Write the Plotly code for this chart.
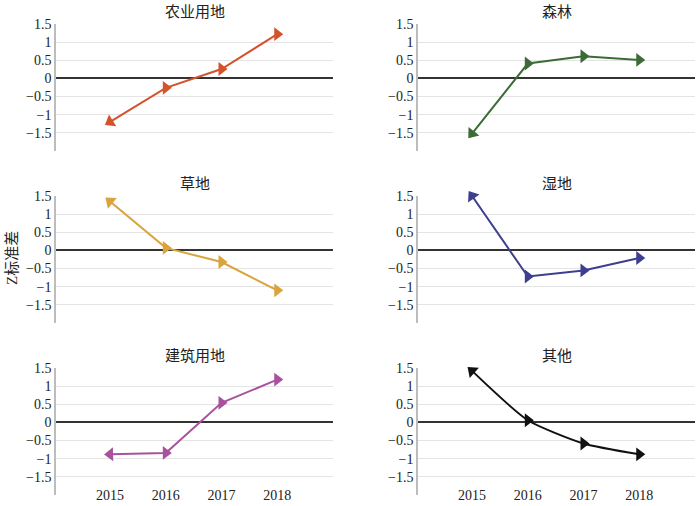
import math
import plotly.graph_objects as go

years = [2015, 2016, 2017, 2018]
titles = ["农业用地", "森林", "草地", "湿地", "建筑用地", "其他"]
agri = [-1.2, -0.26, 0.26, 1.22]
forest = [-1.52, 0.41, 0.61, 0.51]
grass = [1.35, 0.07, -0.32, -1.1]
wetland = [1.5, -0.72, -0.55, -0.21]
build = [-0.88, -0.84, 0.54, 1.18]
other = [1.42, 0.06, -0.58, -0.88]
series = [agri, forest, grass, wetland, build, other]
colors = ["#D4532B", "#3C6B37", "#D9A43E", "#3D3F8E", "#A8529E", "#111111"]
ytick_vals = [-1.5, -1, -0.5, 0, 0.5, 1, 1.5]
ytick_text = ["\u22121.5", "\u22121", "\u22120.5", "0", "0.5", "1", "1.5"]

W, H = 700, 506
xdoms = [(56 / W, 333 / W), (418 / W, 695 / W)]
rows_px = [(24, 151), (196, 323), (368, 495)]
ydoms = [(1 - b / H, 1 - t / H) for t, b in rows_px]
XR = [2014.03, 2019]
YR = [-2, 1.5]
px_per_x = 277 / (XR[1] - XR[0])
px_per_y = 127 / (YR[1] - YR[0])

FONT = "Liberation Serif, Noto Sans CJK SC, serif"

fig = go.Figure()
for i, (vals, col, title) in enumerate(zip(series, colors, titles)):
    r, c = divmod(i, 2)
    n = i + 1
    xa = "x" if n == 1 else f"x{n}"
    ya = "y" if n == 1 else f"y{n}"
    # first marker points backward along the line
    dx = (years[0] - years[1]) * px_per_x
    dy = -(vals[0] - vals[1]) * px_per_y
    ang0 = math.degrees(math.atan2(dy, dx))
    angles = [ang0, 0, 0, 0]
    fig.add_trace(go.Scatter(
        x=years, y=vals, xaxis=xa, yaxis=ya, mode="lines+markers",
        line=dict(color=col, width=2, shape="spline" if i == 5 else "linear", smoothing=0.6),
        marker=dict(symbol="triangle-right", size=12, color=col, angle=angles),
        showlegend=False, cliponaxis=False,
    ))
    xkey = "xaxis" if n == 1 else f"xaxis{n}"
    ykey = "yaxis" if n == 1 else f"yaxis{n}"
    xdict = dict(
        domain=xdoms[c], range=XR, showgrid=False, zeroline=False,
        showline=False, tickmode="array", tickvals=years,
        ticktext=[str(y) for y in years], showticklabels=(r == 2),
        ticks="", tickfont=dict(family=FONT, size=14, color="#222"),
        automargin=False,
    )
    if r == 2:
        xdict.update(anchor="free", position=1 - 485 / H)
    else:
        xdict.update(anchor=ya)
    fig.layout[xkey] = xdict
    fig.layout[ykey] = dict(
        domain=ydoms[r], range=YR, anchor=xa, showgrid=True, gridcolor="#E4E4E4",
        gridwidth=1, zeroline=True, zerolinecolor="#333333", zerolinewidth=1.5,
        showline=True, linecolor="#BDBDBD", linewidth=1.5,
        tickmode="array", tickvals=ytick_vals, ticktext=ytick_text,
        tickfont=dict(family=FONT, size=14, color="#222"), ticks="",
        automargin=False,
    )
    fig.add_annotation(
        text=title, xref="paper", yref="paper",
        x=(xdoms[c][0] + xdoms[c][1]) / 2, y=1 - (rows_px[r][0] - 12) / H,
        showarrow=False, font=dict(family=FONT, size=15, color="#222"),
        xanchor="center", yanchor="middle",
    )

fig.add_annotation(
    text="Z标准差", xref="paper", yref="paper", x=12 / W, y=1 - 258 / H,
    textangle=-90, showarrow=False, font=dict(family=FONT, size=15, color="#222"),
    xanchor="center", yanchor="middle",
)

fig.update_layout(
    width=W, height=H, margin=dict(l=0, r=0, t=0, b=0, autoexpand=False),
    paper_bgcolor="white", plot_bgcolor="white",
)
fig.write_html(
    "out.html",
    config={"displayModeBar": False},
    post_script="document.body.style.margin='0';document.body.style.overflow='hidden';",
)
